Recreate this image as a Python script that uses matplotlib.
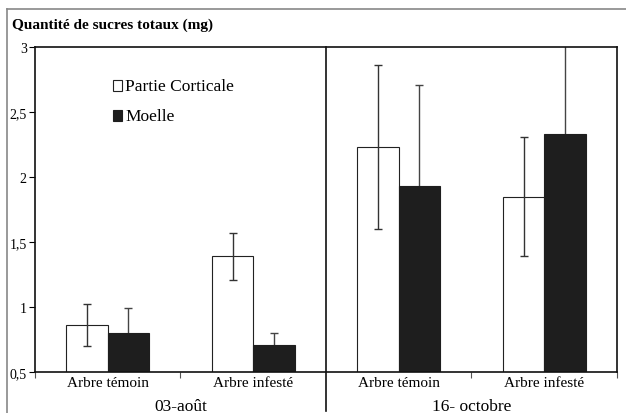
import numpy as np
import matplotlib.pyplot as plt
import matplotlib.transforms as mtransforms
from matplotlib.patches import Rectangle
from matplotlib.lines import Line2D

plt.rcParams['font.family'] = ['Liberation Serif', 'DejaVu Serif']

categories = ["Arbre témoin", "Arbre infesté", "Arbre témoin", "Arbre infesté"]
periods = ["03-août", "16- octobre"]
cortical = [0.86, 1.39, 2.23, 1.85]
cortical_err = [0.16, 0.18, 0.63, 0.46]
moelle = [0.80, 0.71, 1.93, 2.33]
moelle_err = [0.19, 0.09, 0.78, 0.72]
ytick_labels = ["0,5", "1", "1,5", "2", "2,5", "3"]

fig = plt.figure(figsize=(6.26, 4.14), dpi=100)
ax = fig.add_axes([0.0559, 0.099, 0.9297, 0.785])

x = np.arange(len(categories))
w = 0.285
ax.bar(x - w/2, cortical, w, bottom=0, color="white", edgecolor="#222222", linewidth=0.8, zorder=2)
ax.bar(x + w/2, moelle, w, bottom=0, color="#1e1e1e", edgecolor="#1e1e1e", linewidth=0.8, zorder=2)
ax.errorbar(x - w/2, cortical, yerr=cortical_err, fmt="none", ecolor="#333333",
            elinewidth=1, capsize=3, capthick=1, zorder=3)
# lower half of the moelle bars' error bars is hidden by the dark bars
ax.errorbar(x + w/2, moelle, yerr=moelle_err, fmt="none", ecolor="#444444",
            elinewidth=1, capsize=3, capthick=1, zorder=1)

ax.set_ylim(0.5, 3)
ax.set_xlim(-0.5, 3.5)
ax.set_yticks([0.5, 1, 1.5, 2, 2.5, 3])
ax.set_yticklabels(ytick_labels, fontsize=10)
ax.set_xticks([-0.5, 0.5, 2.5, 3.5])
ax.set_xticklabels([])
ax.set_xticks(x, minor=True)
ax.set_xticklabels(categories, minor=True, fontsize=11)
ax.tick_params(axis="x", which="minor", length=0, pad=3)
ax.tick_params(axis="x", which="major", length=4, width=0.8, color="#555555")
ax.tick_params(axis="y", length=4, width=0.8, pad=2)
for s in ax.spines.values():
    s.set_linewidth(1.2)
    s.set_color("#111111")

trans = mtransforms.blended_transform_factory(ax.transData, ax.transAxes)
ax.plot([1.5, 1.5], [1, -0.12], transform=trans, color="#111111", lw=1.2, clip_on=False, zorder=4)
ax.text(0.5, -0.13, periods[0], transform=trans, ha="center", va="bottom", fontsize=12.5)
ax.text(2.5, -0.13, periods[1], transform=trans, ha="center", va="bottom", fontsize=12.5)

# legend drawn manually
ax.add_patch(Rectangle((0.134, 0.864), 0.015, 0.033, transform=ax.transAxes,
                       facecolor="white", edgecolor="#222222", lw=0.8))
ax.add_patch(Rectangle((0.134, 0.772), 0.015, 0.033, transform=ax.transAxes,
                       facecolor="#1e1e1e", edgecolor="#1e1e1e", lw=0.8))
ax.text(0.155, 0.881, "Partie Corticale", transform=ax.transAxes, va="center", fontsize=12.5)
ax.text(0.155, 0.789, "Moelle", transform=ax.transAxes, va="center", fontsize=12.5)

fig.text(0.019, 0.93, "Quantité de sucres totaux (mg)", fontsize=11, fontweight="bold")

# outer frame
fig.add_artist(Line2D([0.011, 1.0], [0.976, 0.976], color="#888888", lw=1.2))
fig.add_artist(Line2D([0.011, 0.011], [0.976, 0.0], color="#888888", lw=1.2))

fig.savefig("out.png", dpi=100)
